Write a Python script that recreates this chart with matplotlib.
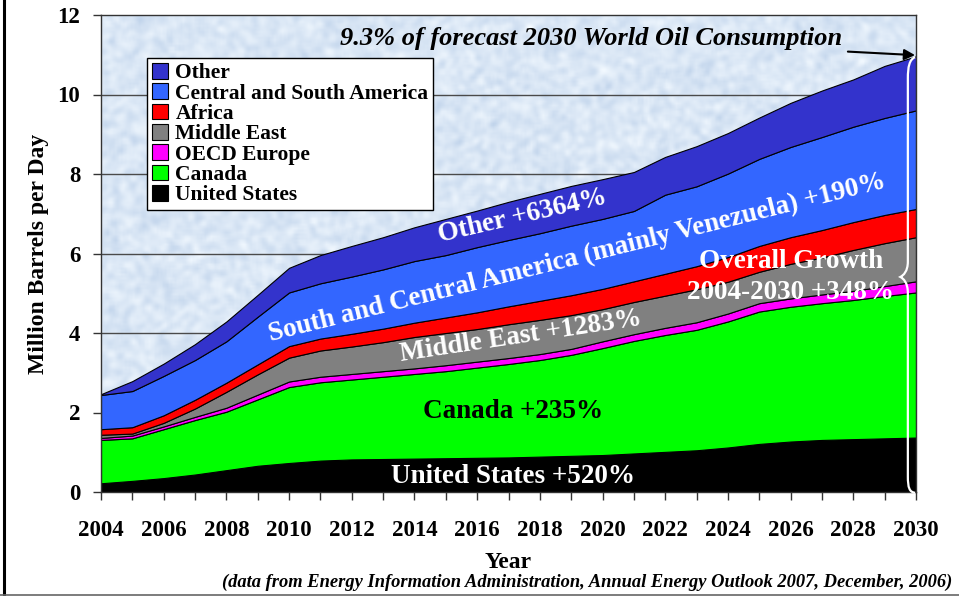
import numpy as np
import matplotlib
matplotlib.use("Agg")
import matplotlib.pyplot as plt
from matplotlib.patches import Patch, PathPatch
from matplotlib.path import Path
from matplotlib.lines import Line2D
from matplotlib.ticker import MultipleLocator

# ---- data (million barrels per day) ----
years = list(range(2004, 2031))

united_states = [0.22, 0.28, 0.35, 0.44, 0.55, 0.66, 0.73, 0.79, 0.82, 0.83, 0.84, 0.85, 0.86, 0.87,
                 0.89, 0.91, 0.93, 0.97, 1.01, 1.05, 1.12, 1.21, 1.27, 1.31, 1.33, 1.35, 1.37]
canada = [1.09, 1.07, 1.23, 1.37, 1.47, 1.67, 1.91, 1.97, 2.01, 2.07, 2.13, 2.19, 2.27, 2.35,
          2.43, 2.54, 2.69, 2.83, 2.94, 3.03, 3.17, 3.33, 3.39, 3.44, 3.50, 3.58, 3.65]
oecd_europe = [0.05, 0.07, 0.07, 0.08, 0.10, 0.12, 0.14, 0.14, 0.14, 0.14, 0.14, 0.15, 0.15, 0.15,
               0.15, 0.15, 0.17, 0.17, 0.18, 0.19, 0.20, 0.21, 0.21, 0.22, 0.23, 0.25, 0.28]
middle_east = [0.08, 0.05, 0.09, 0.21, 0.40, 0.51, 0.60, 0.66, 0.69, 0.73, 0.79, 0.81, 0.82, 0.85,
               0.86, 0.85, 0.81, 0.81, 0.81, 0.83, 0.80, 0.79, 0.87, 0.93, 1.03, 1.08, 1.11]
africa = [0.14, 0.16, 0.19, 0.22, 0.23, 0.25, 0.29, 0.30, 0.32, 0.34, 0.36, 0.39, 0.42, 0.45,
          0.48, 0.50, 0.51, 0.52, 0.55, 0.58, 0.62, 0.65, 0.67, 0.69, 0.70, 0.71, 0.71]
central_south_america = [0.86, 0.91, 0.99, 1.00, 1.04, 1.20, 1.35, 1.39, 1.44, 1.49, 1.55, 1.57, 1.64,
                         1.67, 1.70, 1.75, 1.76, 1.77, 1.99, 2.01, 2.10, 2.19, 2.27, 2.34, 2.40, 2.44, 2.48]
other = [0.021, 0.25, 0.31, 0.40, 0.50, 0.55, 0.62, 0.71, 0.77, 0.81, 0.85, 0.91, 0.92, 0.96,
         0.99, 1.00, 1.00, 0.98, 0.95, 1.01, 1.02, 1.04, 1.11, 1.17, 1.19, 1.31, 1.36]

series = [united_states, canada, oecd_europe, middle_east, africa, central_south_america, other]
series_names = ["United States", "Canada", "OECD Europe", "Middle East", "Africa",
                "Central and South America", "Other"]
series_colors = ["#000000", "#00FF00", "#FF00FF", "#808080", "#FF0000", "#3366FF", "#3333CC"]

y_ticks = [0, 2, 4, 6, 8, 10, 12]

SERIF = ["Liberation Serif", "DejaVu Serif"]
plt.rcParams["font.family"] = SERIF
plt.rcParams["font.weight"] = "bold"

fig = plt.figure(figsize=(9.59, 5.96), dpi=100)
ax = fig.add_axes([101 / 959, 1 - 492 / 596, (916 - 101) / 959, (492 - 15) / 596])
ax.set_xlim(2004, 2030)
ax.set_ylim(0, 12)

# fine mottled pale-blue backdrop
rng = np.random.default_rng(7)
noise = rng.normal(size=(240, 410))
k = np.ones(3) / 3.0
for _ in range(2):
    noise = np.apply_along_axis(lambda r: np.convolve(r, k, mode="same"), 1, noise)
    noise = np.apply_along_axis(lambda c: np.convolve(c, k, mode="same"), 0, noise)
noise = (noise - noise.mean()) / noise.std()
base = np.array([0.855, 0.905, 0.962])
tex = np.clip(base[None, None, :] + 0.025 * noise[:, :, None] * np.array([1.0, 0.75, 0.4]), 0, 1)
ax.imshow(tex, extent=[2004, 2030, 0, 12], aspect="auto", zorder=0, interpolation="bilinear")

for yv in y_ticks[1:-1]:
    ax.axhline(yv, color="#4a4a4a", lw=1.0, zorder=1)

ax.stackplot(years, *series, colors=series_colors, edgecolor="black", linewidth=0.8, zorder=2)

# axes styling
for s in ax.spines.values():
    s.set_color("#333333")
    s.set_linewidth(1.0)
    s.set_zorder(5)
ax.set_yticks(y_ticks)
ax.xaxis.set_major_locator(MultipleLocator(2))
ax.xaxis.set_minor_locator(MultipleLocator(1))
ax.tick_params(axis="both", which="both", direction="out", length=6, width=1, color="#333333")
ax.tick_params(axis="x", which="major", labelsize=16.5, pad=14)
ax.tick_params(axis="y", labelsize=16.5, pad=9)
for lab in ax.get_xticklabels() + ax.get_yticklabels():
    lab.set_fontweight("bold")

ax.set_ylabel("Million Barrels per Day", fontsize=17, fontweight="bold", labelpad=6)
ax.set_xlabel("Year", fontsize=17, fontweight="bold", labelpad=8)

# legend, top series first
handles = [Patch(facecolor=c, edgecolor="black", linewidth=0.8) for c in series_colors[::-1]]
leg = ax.legend(handles, series_names[::-1], loc="upper left", bbox_to_anchor=(46 / 815, 1 - 43 / 477),
                frameon=True, fancybox=False, edgecolor="black", framealpha=1,
                prop={"family": SERIF, "weight": "bold", "size": 15.5},
                handlelength=0.75, handleheight=0.75, handletextpad=0.35, labelspacing=0.0,
                borderpad=0.22, borderaxespad=0)
leg.get_frame().set_linewidth(1.0)
leg.set_zorder(6)

# series annotations
txt = dict(fontweight="bold", ha="center", va="center", zorder=7)
ax.text(2017.43, 6.93, "Other +6364%", color="white", fontsize=19.5, rotation=13, rotation_mode="anchor", **txt)
ax.text(2019.19, 5.88, "South and Central America (mainly Venezuela) +190%", color="white",
        fontsize=19.5, rotation=14, rotation_mode="anchor", **txt)
ax.text(2017.4, 3.90, "Middle East +1283%", color="white", fontsize=19.5, rotation=8.5,
        rotation_mode="anchor", **txt)
ax.text(2017.13, 2.02, "Canada +235%", color="black", fontsize=19.5, **txt)
ax.text(2017.13, 0.40, "United States +520%", color="white", fontsize=19.5, **txt)
ax.text(2026.0, 5.41, "Overall Growth\n2004-2030 +348%", color="white", fontsize=19.5,
        linespacing=1.3, **txt)

# forecast note with arrow to the 2030 total
ax.annotate("9.3% of forecast 2030 World Oil Consumption",
            xy=(2029.97, 10.99), xytext=(2027.65, 11.42),
            fontsize=19, fontweight="bold", fontstyle="italic", ha="right", va="center",
            arrowprops=dict(arrowstyle="-|>", color="black", lw=1.5, mutation_scale=16,
                            shrinkA=2, shrinkB=0),
            annotation_clip=False, zorder=7)

# white brace spanning the 2030 stack
xr, xm, xt = 2029.97, 2029.74, 2029.50
brace = Path(
    [(xr, 10.94), (xm + 0.05, 10.88), (xm, 10.7), (xm, 10.4),
     (xm, 5.8),
     (xm, 5.55), (xt + 0.1, 5.45), (xt, 5.41),
     (xt + 0.1, 5.37), (xm, 5.27), (xm, 5.0),
     (xm, 0.4),
     (xm, 0.1), (xm + 0.05, 0.0), (xr, -0.02)],
    [Path.MOVETO, Path.CURVE4, Path.CURVE4, Path.CURVE4,
     Path.LINETO,
     Path.CURVE4, Path.CURVE4, Path.CURVE4,
     Path.CURVE4, Path.CURVE4, Path.CURVE4,
     Path.LINETO,
     Path.CURVE4, Path.CURVE4, Path.CURVE4])
ax.add_patch(PathPatch(brace, facecolor="none", edgecolor="white", lw=1.6, zorder=7, clip_on=False))

# source note
fig.text(952 / 959, 1 - 582 / 596,
         "(data from Energy Information Administration, Annual Energy Outlook 2007, December, 2006)",
         ha="right", va="center", fontsize=13.3, fontweight="bold", fontstyle="italic")

# frame lines along the left and bottom edges of the figure
fig.add_artist(Line2D([4 / 959, 4 / 959], [0, 1], transform=fig.transFigure, color="black", lw=2.2))
fig.add_artist(Line2D([0, 1], [1.5 / 596, 1.5 / 596], transform=fig.transFigure, color="#666666", lw=1.2))

fig.savefig("out.png", dpi=100)
